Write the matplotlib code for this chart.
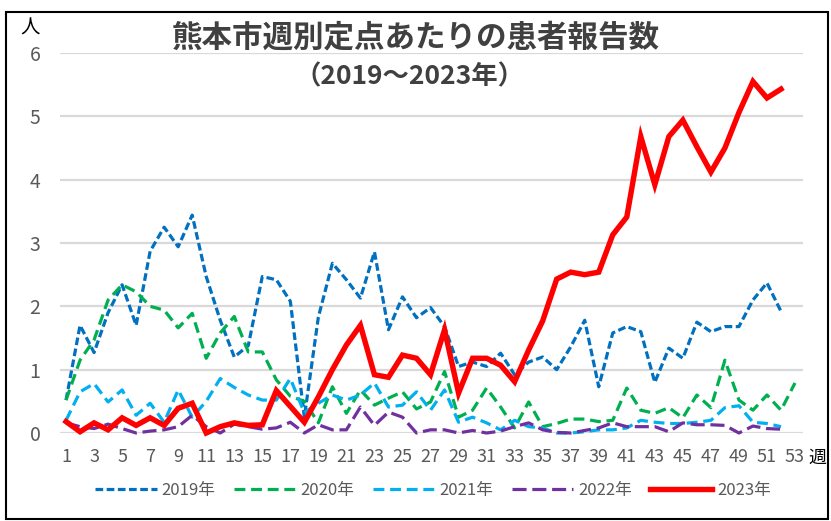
"""
Kumamoto city weekly patient reports per sentinel site, 2019-2023.
"""

import matplotlib

matplotlib.use("Agg")
import matplotlib.pyplot as plt
from matplotlib.patches import Rectangle

plt.rcParams["font.family"] = ["Noto Sans CJK JP", "DejaVu Sans"]

# weekly values (per sentinel site)
weeks_2019 = list(range(1, 53))
cases_2019 = [
    0.52, 1.70, 1.27, 1.90, 2.34, 1.70, 2.87, 3.25, 2.94, 3.44,
    2.47, 1.78, 1.20, 1.38, 2.47, 2.42, 2.08, 0.25, 1.83, 2.68,
    2.42, 2.13, 2.86, 1.63, 2.15, 1.82, 1.98, 1.68, 1.05, 1.12,
    1.05, 1.26, 0.92, 1.12, 1.20, 1.00, 1.36, 1.78, 0.73, 1.58,
    1.68, 1.60, 0.80, 1.34, 1.18, 1.75, 1.60, 1.68, 1.68, 2.10,
    2.37, 1.92,
]
weeks_2020 = list(range(1, 54))
cases_2020 = [
    0.52, 1.15, 1.47, 2.10, 2.34, 2.23, 2.00, 1.94, 1.66, 1.89,
    1.18, 1.58, 1.84, 1.28, 1.28, 0.84, 0.58, 0.50, 0.16, 0.73,
    0.31, 0.68, 0.44, 0.55, 0.65, 0.38, 0.49, 0.97, 0.25, 0.36,
    0.71, 0.41, 0.08, 0.49, 0.10, 0.15, 0.22, 0.22, 0.18, 0.20,
    0.71, 0.36, 0.31, 0.40, 0.24, 0.60, 0.40, 1.15, 0.52, 0.36,
    0.60, 0.36, 0.79,
]
weeks_2021 = list(range(1, 53))
cases_2021 = [
    0.20, 0.65, 0.78, 0.49, 0.68, 0.28, 0.47, 0.17, 0.68, 0.25,
    0.50, 0.86, 0.72, 0.60, 0.52, 0.52, 0.86, 0.32, 0.47, 0.60,
    0.52, 0.60, 0.79, 0.41, 0.44, 0.65, 0.36, 0.68, 0.17, 0.25,
    0.16, 0.05, 0.20, 0.10, 0.08, 0.00, 0.00, 0.02, 0.05, 0.05,
    0.08, 0.20, 0.17, 0.15, 0.15, 0.17, 0.20, 0.40, 0.43, 0.17,
    0.15, 0.10,
]
weeks_2022 = list(range(1, 53))
cases_2022 = [
    0.16, 0.10, 0.07, 0.14, 0.07, 0.00, 0.03, 0.05, 0.10, 0.28,
    0.10, 0.00, 0.14, 0.10, 0.06, 0.08, 0.17, 0.00, 0.13, 0.05,
    0.05, 0.41, 0.12, 0.33, 0.25, 0.00, 0.05, 0.05, 0.00, 0.04,
    0.00, 0.03, 0.10, 0.16, 0.05, 0.01, 0.00, 0.04, 0.08, 0.16,
    0.10, 0.10, 0.10, 0.02, 0.16, 0.13, 0.13, 0.12, 0.00, 0.11,
    0.07, 0.06,
]
weeks_2023 = list(range(1, 53))
cases_2023 = [
    0.18, 0.02, 0.16, 0.05, 0.24, 0.12, 0.24, 0.12, 0.39, 0.47,
    0.00, 0.10, 0.16, 0.12, 0.13, 0.67, 0.42, 0.17, 0.57, 1.00,
    1.39, 1.70, 0.92, 0.88, 1.23, 1.18, 0.92, 1.63, 0.63, 1.18,
    1.18, 1.07, 0.81, 1.31, 1.77, 2.43, 2.54, 2.50, 2.54, 3.13,
    3.41, 4.68, 3.92, 4.68, 4.94, 4.52, 4.12, 4.50, 5.06, 5.55,
    5.29, 5.43,
]

series_labels = ["2019年", "2020年", "2021年", "2022年", "2023年"]
x_tick_weeks = list(range(1, 54, 2))
y_ticks = [0, 1, 2, 3, 4, 5, 6]

title = "熊本市週別定点あたりの患者報告数"
subtitle = "（2019～2023年）"

W, H = 831, 521
fig = plt.figure(figsize=(W / 100, H / 100), dpi=100)
fig.patch.set_facecolor("white")

# plot area in pixel terms: x 60..803, y 53 (value 6) .. 433 (value 0)
ax = fig.add_axes([60 / W, (H - 433) / H, 743 / W, 380 / H])
ax.set_xlim(0.57, 53.57)
ax.set_ylim(0, 6)

styles = [
    dict(color="#0070C0", lw=2.3, dashes=(2.4, 1.1)),
    dict(color="#00B050", lw=2.3, dashes=(3.4, 1.8)),
    dict(color="#00B0F0", lw=2.3, dashes=(3.4, 1.8)),
    dict(color="#7030A0", lw=2.3, dashes=(4.4, 1.8)),
    dict(color="#FF0000", lw=3.9),
]
data = [
    (weeks_2019, cases_2019),
    (weeks_2020, cases_2020),
    (weeks_2021, cases_2021),
    (weeks_2022, cases_2022),
    (weeks_2023, cases_2023),
]

handles = []
for (wk, val), st, lab in zip(data, styles, series_labels):
    (ln,) = ax.plot(wk, val, label=lab, clip_on=False, solid_joinstyle="miter", **st)
    handles.append(ln)

# grid and axes cosmetics
ax.set_yticks(y_ticks)
ax.set_yticklabels([str(v) for v in y_ticks])
ax.set_xticks(x_tick_weeks)
ax.set_xticklabels([str(v) for v in x_tick_weeks])
ax.yaxis.grid(True, color="#D9D9D9", lw=1.6)
ax.set_axisbelow(True)
for sp in ax.spines.values():
    sp.set_visible(False)
ax.tick_params(axis="both", length=0, colors="#595959", labelsize=13)
ax.tick_params(axis="y", pad=14, labelsize=14)
ax.tick_params(axis="x", pad=11)

# titles and unit labels
fig.text(416 / W, 1 - 37 / H, title, ha="center", va="center",
         fontsize=22, fontweight="bold", color="#404040")
fig.text(410 / W, 1 - 77 / H, subtitle, ha="center", va="center",
         fontsize=19, fontweight="bold", color="#404040")
fig.text(30 / W, 1 - 28 / H, "人", ha="center", va="center",
         fontsize=14, color="black")
fig.text(817 / W, 1 - 458 / H, "週", ha="center", va="center",
         fontsize=13, color="black")

leg = fig.legend(handles=handles, loc="center", bbox_to_anchor=(433 / W, 1 - 490 / H),
                 ncol=5, frameon=False, fontsize=12, handlelength=3.7,
                 handletextpad=0.3, columnspacing=1.1)
for t in leg.get_texts():
    t.set_color("#595959")

# outer frame
fig.patches.append(Rectangle((6 / W, 2 / H), 822 / W, (H - 14) / H,
                             transform=fig.transFigure, fill=False,
                             edgecolor="black", lw=1.5))

fig.savefig("out.png", dpi=100)
plt.close(fig)
